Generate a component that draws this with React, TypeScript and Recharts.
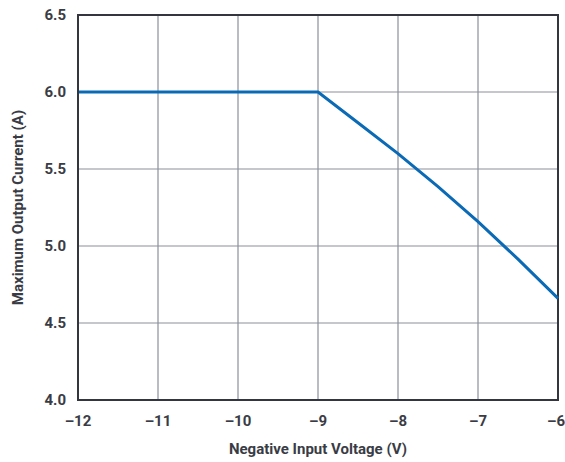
import { LineChart, Line, XAxis, YAxis, CartesianGrid, ReferenceArea, Label } from "recharts"

// negative input voltage (V) vs maximum output current (A)
const voltage = [-12, -11, -10, -9, -8.5, -8, -7.5, -7, -6.5, -6]
const current = [6.0, 6.0, 6.0, 6.0, 5.8, 5.6, 5.385, 5.158, 4.915, 4.66]

const xTicks = [-12, -11, -10, -9, -8, -7, -6]
const yTicks = [4.0, 4.5, 5.0, 5.5, 6.0, 6.5]

const data = voltage.map((v, i) => ({ v, a: current[i] }))

const TEXT = "#3a3c45"
const GRID = "#8b8f9c"
const FRAME = "#33363f"

const tickStyle = { fontSize: 15, fontWeight: 700, fill: TEXT, fontFamily: "Roboto" }

// last x tick would run off the right edge, so pin it to the edge
function XTick(props: any) {
  const { x, y, payload } = props
  const last = payload.value === xTicks[xTicks.length - 1]
  return (
    <text
      x={last ? x + 7 : x}
      y={y}
      dy={12}
      textAnchor={last ? "end" : "middle"}
      style={tickStyle}
    >
      {String(payload.value).replace("-", "\u2013")}
    </text>
  )
}

export default function App() {
  return (
    <div style={{ position: "absolute", left: 0, top: 0, background: "#fff" }}>
      <LineChart
        width={565}
        height={462}
        data={data}
        margin={{ top: 15, right: 7, bottom: 32, left: 0 }}
      >
        <CartesianGrid stroke={GRID} strokeWidth={1.2} />
        <XAxis
          dataKey="v"
          type="number"
          domain={[-12, -6]}
          ticks={xTicks}
          tick={<XTick />}
          tickLine={false}
          axisLine={{ stroke: FRAME, strokeWidth: 2 }}
          height={30}
          tickMargin={8}
        >
          <Label
            value="Negative Input Voltage (V)"
            position="insideBottom"
            offset={-24}
            style={{ ...tickStyle, textAnchor: "middle" }}
          />
        </XAxis>
        <YAxis
          type="number"
          domain={[4, 6.5]}
          ticks={yTicks}
          tickFormatter={(t) => t.toFixed(1)}
          tick={tickStyle}
          tickLine={false}
          axisLine={{ stroke: FRAME, strokeWidth: 2 }}
          width={78}
          tickMargin={6}
          interval={0}
        >
          <Label
            value="Maximum Output Current (A)"
            angle={-90}
            position="insideLeft"
            offset={18}
            style={{ ...tickStyle, textAnchor: "middle" }}
          />
        </YAxis>
        <ReferenceArea
          x1={-12}
          x2={-6}
          y1={4}
          y2={6.5}
          fill="none"
          stroke={FRAME}
          strokeWidth={2}
          ifOverflow="visible"
        />
        <Line
          type="linear"
          dataKey="a"
          stroke="#0a6ab5"
          strokeWidth={3}
          dot={false}
          isAnimationActive={false}
        />
      </LineChart>
    </div>
  )
}
